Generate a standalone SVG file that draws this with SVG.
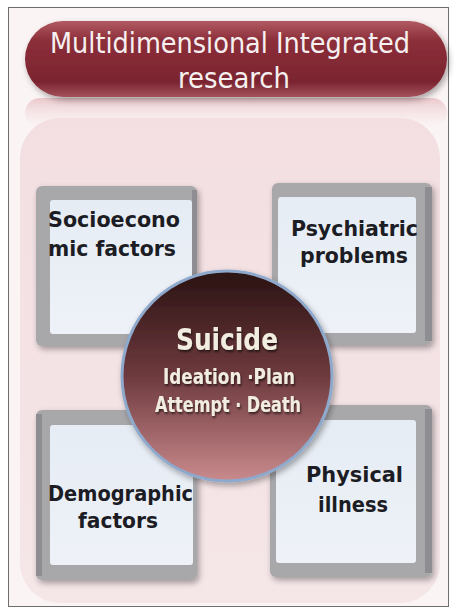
<svg xmlns="http://www.w3.org/2000/svg" width="457" height="609" viewBox="0 0 457 609">
<defs>
<linearGradient id="pill" x1="0" y1="0" x2="0" y2="1">
<stop offset="0" stop-color="#b15a63"/>
<stop offset="0.25" stop-color="#8c2f3a"/>
<stop offset="0.8" stop-color="#7a2430"/>
<stop offset="1" stop-color="#a4525a"/>
</linearGradient>
<linearGradient id="bg" x1="0" y1="0" x2="0" y2="1">
<stop offset="0" stop-color="#f3dfe2"/>
<stop offset="1" stop-color="#f5e6e8"/>
</linearGradient>
<linearGradient id="refl" x1="0" y1="0" x2="0" y2="1">
<stop offset="0" stop-color="#e9c3c7" stop-opacity="0.9"/>
<stop offset="1" stop-color="#f4e3e5" stop-opacity="0"/>
</linearGradient>
<linearGradient id="circ" x1="0" y1="0" x2="0" y2="1">
<stop offset="0" stop-color="#2a1212"/>
<stop offset="0.5" stop-color="#6e3a3e"/>
<stop offset="1" stop-color="#c98a8d"/>
</linearGradient>
<linearGradient id="panel" x1="0" y1="0" x2="0" y2="1">
<stop offset="0" stop-color="#e6ecf4"/>
<stop offset="1" stop-color="#eef2f8"/>
</linearGradient>
<filter id="sh" x="-10%" y="-10%" width="130%" height="130%">
<feGaussianBlur in="SourceAlpha" stdDeviation="3"/>
<feOffset dx="2" dy="3"/>
<feComponentTransfer><feFuncA type="linear" slope="0.35"/></feComponentTransfer>
<feMerge><feMergeNode/><feMergeNode in="SourceGraphic"/></feMerge>
</filter>
<filter id="tsh" x="-10%" y="-10%" width="130%" height="130%">
<feOffset in="SourceAlpha" dx="1" dy="1.5"/>
<feGaussianBlur stdDeviation="0.8"/>
<feComponentTransfer><feFuncA type="linear" slope="0.6"/></feComponentTransfer>
<feMerge><feMergeNode/><feMergeNode in="SourceGraphic"/></feMerge>
</filter>
</defs>
<style>
.frame{fill:#a8a8aa;}
.frameR{fill:#8e8e92;}
.panel{fill:url(#panel);}
.bt{font-family:"DejaVu Sans","Liberation Sans",sans-serif;font-stretch:condensed;font-weight:bold;font-size:22px;fill:#1c1c24;}
.ct{font-family:"DejaVu Sans","Liberation Sans",sans-serif;font-stretch:condensed;font-weight:bold;fill:#f1ede0;text-anchor:middle;}
.tt{font-family:"DejaVu Sans","Liberation Sans",sans-serif;font-stretch:condensed;font-size:29px;fill:#f6f0f0;text-anchor:middle;}
</style>
<rect x="0" y="0" width="457" height="609" fill="#ffffff"/>
<rect x="8.5" y="7.5" width="440" height="599" fill="#fbf4f5" stroke="#6e6e6e" stroke-width="1"/>
<rect x="20" y="118" width="420" height="485" rx="40" fill="url(#bg)"/>
<rect x="25" y="98" width="422" height="30" rx="15" fill="url(#refl)"/>

<g id="title">
<rect x="25" y="21" width="422" height="76" rx="38" fill="url(#pill)" filter="url(#sh)"/>
<text class="tt" x="230" y="53" textLength="360" lengthAdjust="spacingAndGlyphs">Multidimensional Integrated</text>
<text class="tt" x="234" y="88" textLength="112" lengthAdjust="spacingAndGlyphs">research</text>
</g>

<g id="socioeconomic">
<rect class="frame" x="36" y="186" width="161" height="160" rx="6" filter="url(#sh)"/>
<rect class="frameR" x="192" y="190" width="5" height="152"/>
<rect class="panel" x="50" y="200" width="142" height="134" rx="3"/>
<text class="bt" x="48" y="227" textLength="132" lengthAdjust="spacingAndGlyphs">Socioecono</text>
<text class="bt" x="48" y="256" textLength="128" lengthAdjust="spacingAndGlyphs">mic factors</text>
</g>

<g id="psychiatric">
<rect class="frame" x="272" y="183" width="160" height="162" rx="6" filter="url(#sh)"/>
<rect class="frameR" x="425" y="187" width="7" height="154"/>
<rect class="panel" x="278" y="197" width="138" height="136" rx="3"/>
<text class="bt" x="291" y="236" textLength="127" lengthAdjust="spacingAndGlyphs">Psychiatric</text>
<text class="bt" x="300" y="263" textLength="108" lengthAdjust="spacingAndGlyphs">problems</text>
</g>

<g id="demographic">
<rect class="frame" x="36" y="410" width="161" height="170" rx="6" filter="url(#sh)"/>
<rect class="frameR" x="36" y="414" width="6" height="162"/>
<rect class="panel" x="50" y="425" width="143" height="140" rx="3"/>
<text class="bt" x="48" y="501" textLength="145" lengthAdjust="spacingAndGlyphs">Demographic</text>
<text class="bt" x="78" y="528" textLength="80" lengthAdjust="spacingAndGlyphs">factors</text>
</g>

<g id="physical">
<rect class="frame" x="270" y="405" width="162" height="172" rx="6" filter="url(#sh)"/>
<rect class="frameR" x="425" y="409" width="7" height="164"/>
<rect class="panel" x="276" y="420" width="140" height="143" rx="3"/>
<text class="bt" x="306" y="482" textLength="97" lengthAdjust="spacingAndGlyphs">Physical</text>
<text class="bt" x="318" y="512" textLength="70" lengthAdjust="spacingAndGlyphs">illness</text>
</g>

<g id="suicide">
<circle cx="227" cy="376" r="105" fill="url(#circ)" stroke="#8fa9cc" stroke-width="3" filter="url(#sh)"/>
<text class="ct" x="227" y="350" font-size="31" textLength="102" lengthAdjust="spacingAndGlyphs" filter="url(#tsh)">Suicide</text>
<text class="ct" x="229" y="384" font-size="21" textLength="132" lengthAdjust="spacingAndGlyphs" filter="url(#tsh)">Ideation ·Plan</text>
<text class="ct" x="228" y="412" font-size="21" textLength="146" lengthAdjust="spacingAndGlyphs" filter="url(#tsh)">Attempt · Death</text>
</g>
<g id="connectors"/>
</svg>
